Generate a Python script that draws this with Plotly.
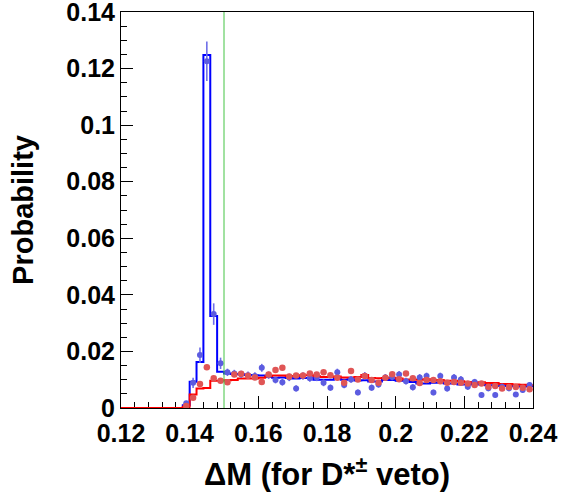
import plotly.graph_objects as go

# ---- data ----
bin_edges = [round(0.12 + 0.002 * i, 3) for i in range(61)]
bin_centers = [round(0.121 + 0.002 * i, 3) for i in range(60)]

blue_hist = [0, 0, 0, 0, 0, 0, 0, 0, 0,
             0.0010, 0.0093, 0.0163, 0.1248, 0.0325, 0.0128,
             0.0122, 0.0120, 0.0119, 0.0117, 0.0116, 0.0115, 0.0110, 0.0107, 0.0108, 0.0106,
             0.0104, 0.0106, 0.0106, 0.0100, 0.0100, 0.0100, 0.0106, 0.0100, 0.0102, 0.0097,
             0.0098, 0.0094, 0.0094, 0.0099, 0.0099, 0.0096, 0.0096, 0.0092, 0.0087, 0.0087,
             0.0089, 0.0090, 0.0087, 0.0087, 0.0083, 0.0083, 0.0085, 0.0083, 0.0080, 0.0080,
             0.0078, 0.0078, 0.0077, 0.0076, 0.0077]

red_hist = [0, 0, 0, 0, 0, 0, 0, 0, 0,
            0.0004, 0.0048, 0.0069, 0.0071, 0.0096, 0.0096,
            0.0098, 0.0099, 0.0104, 0.0104, 0.0104, 0.0107, 0.0112, 0.0115, 0.0115, 0.0113,
            0.0113, 0.0116, 0.0116, 0.0112, 0.0110, 0.0110, 0.0111, 0.0108, 0.0108, 0.0110,
            0.0117, 0.0106, 0.0105, 0.0106, 0.0107, 0.0104, 0.0101, 0.0101, 0.0100, 0.0102,
            0.0098, 0.0099, 0.0096, 0.0096, 0.0095, 0.0092, 0.0090, 0.0091, 0.0088, 0.0088,
            0.0085, 0.0085, 0.0083, 0.0082, 0.0080]

point_x = bin_centers[9:]

blue_pts = [0.0017, 0.0089, 0.0187, 0.1226, 0.0332, 0.0158,
            0.0126, 0.0122, 0.0119, 0.0116, 0.0113, 0.0142, 0.0116, 0.0099, 0.0091, 0.0108,
            0.0069, 0.0113, 0.0105, 0.0108, 0.0089, 0.0072, 0.0126, 0.0081, 0.0101, 0.0055,
            0.0114, 0.0072, 0.0083, 0.0108, 0.0110, 0.0118, 0.0095, 0.0073, 0.0108, 0.0113,
            0.0055, 0.0113, 0.0069, 0.0108, 0.0101, 0.0075, 0.0092, 0.0046, 0.0070, 0.0046,
            0.0075, 0.0070, 0.0048, 0.0064, 0.0081]

blue_err = [0.0008, 0.0018, 0.0027, 0.0070, 0.0038, 0.0020,
            0.0013, 0.0013, 0.0013, 0.0013, 0.0013, 0.0014, 0.0013, 0.0012, 0.0012, 0.0013,
            0.0011, 0.0013, 0.0012, 0.0013, 0.0012, 0.0011, 0.0013, 0.0011, 0.0012, 0.0010,
            0.0013, 0.0011, 0.0011, 0.0012, 0.0012, 0.0013, 0.0012, 0.0011, 0.0012, 0.0012,
            0.0010, 0.0012, 0.0011, 0.0012, 0.0012, 0.0011, 0.0011, 0.0009, 0.0011, 0.0009,
            0.0011, 0.0011, 0.0009, 0.0010, 0.0011]

red_pts = [0.0007, 0.0036, 0.0085, 0.0144, 0.0105, 0.0096,
           0.0091, 0.0118, 0.0121, 0.0114, 0.0108, 0.0092, 0.0118, 0.0134, 0.0142, 0.0111,
           0.0115, 0.0115, 0.0122, 0.0118, 0.0126, 0.0116, 0.0107, 0.0089, 0.0131, 0.0101,
           0.0113, 0.0099, 0.0089, 0.0107, 0.0119, 0.0102, 0.0122, 0.0105, 0.0088, 0.0099,
           0.0099, 0.0095, 0.0089, 0.0092, 0.0089, 0.0087, 0.0081, 0.0087, 0.0075, 0.0078,
           0.0069, 0.0074, 0.0074, 0.0072, 0.0066]

red_err = [0.0003, 0.0006, 0.0008, 0.0009, 0.0008, 0.0007,
           0.0007, 0.0008, 0.0008, 0.0008, 0.0008, 0.0007, 0.0008, 0.0008, 0.0009, 0.0008,
           0.0008, 0.0008, 0.0008, 0.0008, 0.0008, 0.0008, 0.0008, 0.0007, 0.0008, 0.0007,
           0.0008, 0.0007, 0.0007, 0.0008, 0.0008, 0.0007, 0.0008, 0.0007, 0.0007, 0.0007,
           0.0007, 0.0007, 0.0007, 0.0007, 0.0007, 0.0007, 0.0006, 0.0007, 0.0006, 0.0006,
           0.0006, 0.0006, 0.0006, 0.0006, 0.0006]

veto_cut = 0.15
x_ticks = [0.12, 0.14, 0.16, 0.18, 0.20, 0.22, 0.24]
x_tick_labels = ["0.12", "0.14", "0.16", "0.18", "0.2", "0.22", "0.24"]
y_ticks = [0, 0.02, 0.04, 0.06, 0.08, 0.10, 0.12, 0.14]
y_tick_labels = ["0", "0.02", "0.04", "0.06", "0.08", "0.1", "0.12", "0.14"]

FONT = "Liberation Sans, Arial, Helvetica, sans-serif"

fig = go.Figure()

fig.add_trace(go.Scatter(x=bin_edges, y=blue_hist + [blue_hist[-1]], mode="lines",
                         line=dict(color="#0000ff", width=2, shape="hv"), hoverinfo="skip"))
fig.add_trace(go.Scatter(x=bin_edges, y=red_hist + [red_hist[-1]], mode="lines",
                         line=dict(color="#ff0000", width=2, shape="hv"), hoverinfo="skip"))
fig.add_trace(go.Scatter(x=point_x, y=blue_pts, mode="markers",
                         marker=dict(color="#5c5ce0", size=6, line=dict(width=0)),
                         error_y=dict(type="data", array=blue_err, color="#6f6fe8",
                                      thickness=1.6, width=0)))
fig.add_trace(go.Scatter(x=point_x, y=red_pts, mode="markers",
                         marker=dict(color="#e05555", size=6.5, line=dict(width=0)),
                         error_y=dict(type="data", array=red_err, color="#e06666",
                                      thickness=1.6, width=0)))
fig.add_trace(go.Scatter(x=[veto_cut, veto_cut], y=[0, 0.14], mode="lines",
                         line=dict(color="#44c444", width=1), hoverinfo="skip"))

fig.update_layout(
    width=562, height=504,
    margin=dict(l=121, r=29, t=12, b=96, autoexpand=False),
    paper_bgcolor="white", plot_bgcolor="white",
    showlegend=False,
    font=dict(family=FONT, color="black"),
    xaxis=dict(range=[0.12, 0.24], tickvals=x_ticks, ticktext=x_tick_labels,
               automargin=False, layer="below traces", ticklabeloverflow="allow",
               ticklabelstandoff=3,
               ticks="inside", ticklen=12, tickwidth=1, tickcolor="black",
               minor=dict(dtick=0.004, tick0=0.12, ticks="inside", ticklen=6, tickcolor="black"),
               showline=True, linecolor="black", linewidth=1, mirror=True,
               showgrid=False, zeroline=False,
               tickfont=dict(family=FONT, size=25, weight="bold"),
               title=dict(text="ΔM (for D*<sup>±</sup> veto)",
                          font=dict(family=FONT, size=31, weight="bold"), standoff=17)),
    yaxis=dict(range=[0, 0.14], tickvals=y_ticks, ticktext=y_tick_labels,
               automargin=False, layer="below traces", ticklabeloverflow="allow",
               ticks="inside", ticklen=12, tickwidth=1, tickcolor="black",
               minor=dict(dtick=0.005, tick0=0, ticks="inside", ticklen=6, tickcolor="black"),
               showline=True, linecolor="black", linewidth=1, mirror=True,
               showgrid=False, zeroline=False,
               tickfont=dict(family=FONT, size=25, weight="bold"),
               title=dict(text="Probability",
                          font=dict(family=FONT, size=29, weight="bold"), standoff=24)),
)

fig.write_html("out.html", config={"displayModeBar": False},
               post_script="document.body.style.margin='0';")
